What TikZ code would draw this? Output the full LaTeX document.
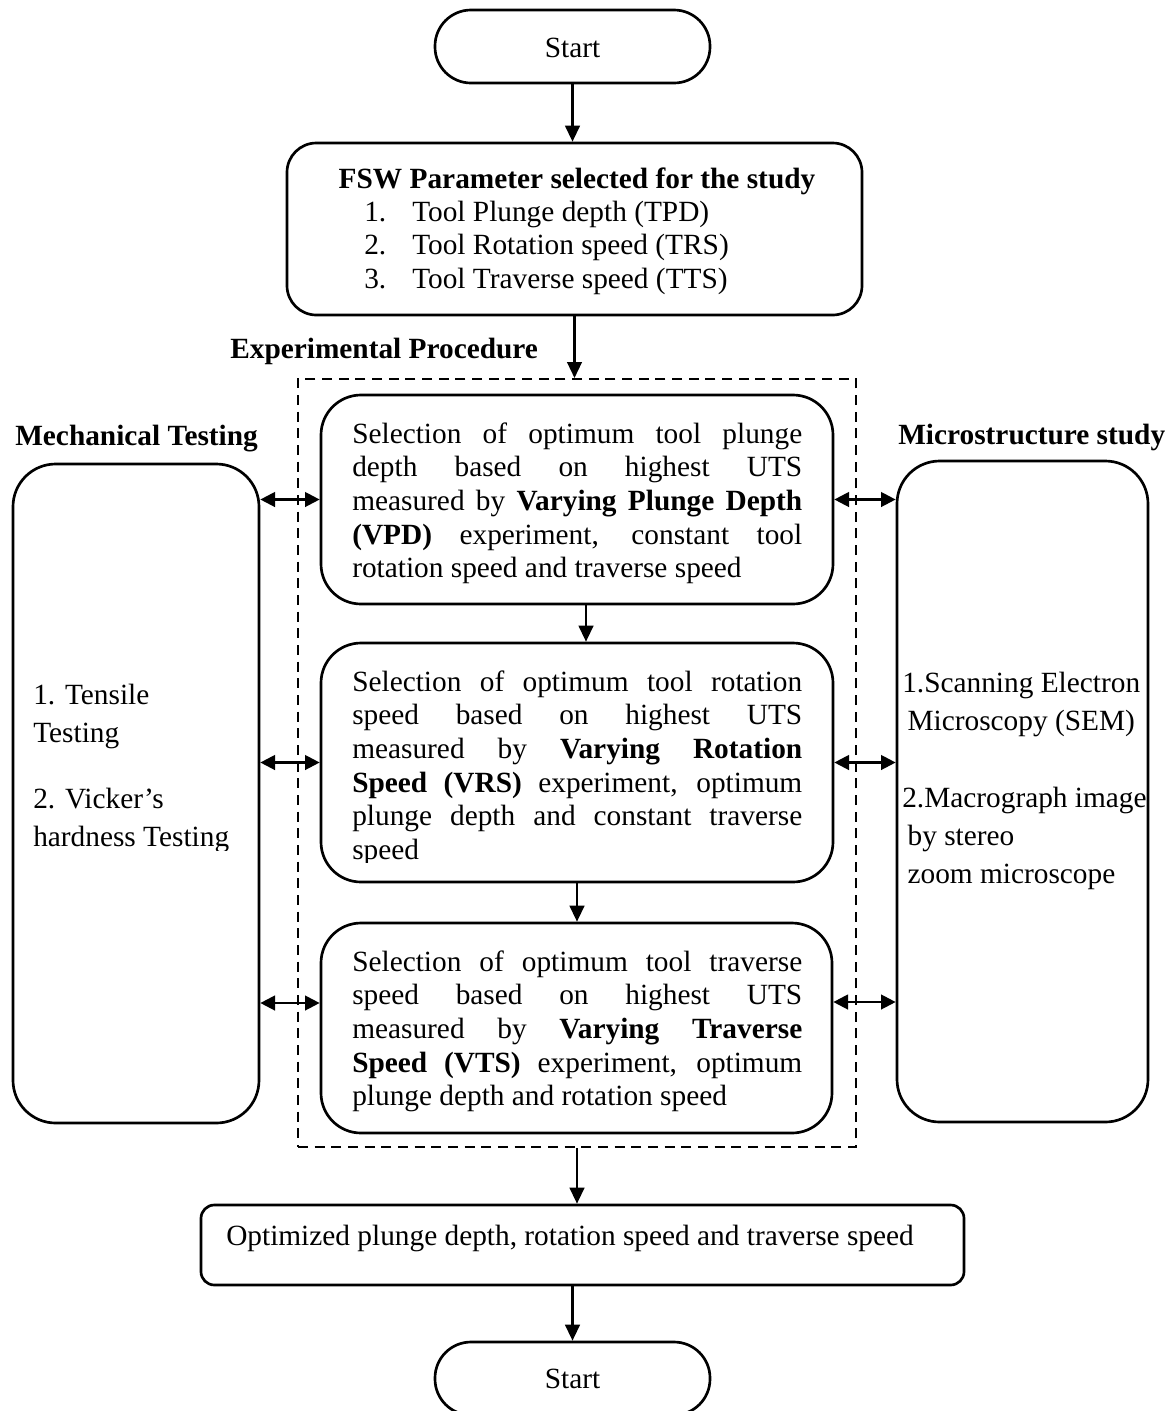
\documentclass[tikz,border=0pt]{standalone}
\usepackage{fontspec}
\setmainfont{Liberation Serif}
\usetikzlibrary{arrows.meta,fit}
\begin{document}
\begin{tikzpicture}[x=0.75pt,y=-0.75pt,
  every node/.style={font=\fontsize{22}{25.3}\selectfont},
  txt/.style={inner sep=0pt, anchor=base west},
  bold/.style={font=\fontsize{22}{25.3}\selectfont\bfseries},
  boxfit/.style={draw, line width=2pt, inner sep=0pt},
  term/.style={boxfit, rounded corners=27pt},
  procbox/.style={boxfit, rounded corners=30pt},
  sidebox/.style={boxfit, rounded corners=32pt},
  dashbox/.style={draw, line width=1.5pt, dash pattern=on 7.5pt off 5pt, inner sep=0pt},
  arr/.style={line width=1.7pt, -{Triangle[length=12pt,width=11pt]}},
  darr/.style={line width=1.7pt, {Triangle[length=11pt,width=11pt]}-{Triangle[length=11pt,width=11pt]}}
]
\useasboundingbox (0,0) rectangle (1176,1411);

% terminals
\node[term, fit={(435,10)(710,83)}] (s1) {};
\node[txt, anchor=base] (s1t) at (572.5,57) {Start};
\node[term, fit={(435,1342)(710,1415)}] (s2) {};
\node[txt, anchor=base] (s2t) at (572.5,1388) {Start};

% parameter box
\node[boxfit, rounded corners=22pt, fit={(287,143)(862,315)}] (fsw) {};
\node[txt, bold, anchor=base] (fswt) at (577,188) {FSW Parameter selected for the study};
\node[txt] (fswl) at (364,221) {\parbox[t]{380pt}{\raggedright
  \makebox[36pt][l]{1.}Tool Plunge depth (TPD)\\
  \makebox[36pt][l]{2.}Tool Rotation speed (TRS)\\
  \makebox[36pt][l]{3.}Tool Traverse speed (TTS)}};

% labels
\node[txt, bold] (explab) at (230,358) {Experimental Procedure};
\node[txt, bold] (mechlab) at (15,445) {Mechanical Testing};
\node[txt, bold] (microlab) at (898,444) {Microstructure study};

% dashed group
\node[dashbox, fit={(298,379)(856,1147)}] (exp) {};

% process boxes
\node[procbox, fit={(321,395)(833,604)}] (b1) {};
\node[procbox, fit={(321,643)(833,882)}] (b2) {};
\node[procbox, fit={(321,923)(832,1133)}] (b3) {};

\node[txt] (t1) at (352,443) {\parbox[t]{337.5pt}{\hyphenpenalty=10000
  Selection of optimum tool plunge\linebreak
  depth based on highest UTS\linebreak
  measured by \textbf{Varying Plunge Depth}\linebreak
  \textbf{(VPD)} experiment, constant tool\linebreak
  rotation speed and traverse speed}};

\begin{scope}
\clip (321,643) rectangle (833,862);
\node[txt] (t2) at (352,691) {\parbox[t]{337.5pt}{\hyphenpenalty=10000
  Selection of optimum tool rotation\linebreak
  speed based on highest UTS\linebreak
  measured by \textbf{Varying Rotation}\linebreak
  \textbf{Speed (VRS)} experiment, optimum\linebreak
  plunge depth and constant traverse\linebreak
  speed}};
\end{scope}

\node[txt] (t3) at (352,971) {\parbox[t]{337.5pt}{\hyphenpenalty=10000
  Selection of optimum tool traverse\linebreak
  speed based on highest UTS\linebreak
  measured by \textbf{Varying Traverse}\linebreak
  \textbf{Speed (VTS)} experiment, optimum\linebreak
  plunge depth and rotation speed}};

% side boxes
\node[sidebox, fit={(13,464)(259,1123)}] (mech) {};
\node[sidebox, fit={(897,461)(1148,1122)}] (micro) {};

\begin{scope}
\clip (13,464) rectangle (259,850);
\node[txt] (mecht) at (33,704) {\parbox[t]{200pt}{\fontsize{22}{28.5}\selectfont\raggedright
  1. Tensile\\
  Testing\\[21pt]
  2. Vicker's\\
  hardness Testing}};
\end{scope}

\node[txt] (microt) at (902,692) {\parbox[t]{250pt}{\fontsize{22}{28.5}\selectfont\raggedright
  1.Scanning Electron\\
  \hspace*{4pt}Microscopy (SEM)\\[29.25pt]
  2.Macrograph image\\
  \hspace*{4pt}by stereo\\
  \hspace*{4pt}zoom microscope}};

% result box
\node[boxfit, rounded corners=10pt, fit={(201,1205)(964,1285)}] (opt) {};
\node[txt] (optt) at (226,1245) {Optimized plunge depth, rotation speed and traverse speed};

% main flow
\draw[arr] (s1) -- (s1 |- fsw.north);
\draw[arr] (fsw) -- (fsw |- exp.north);
\draw[arr] ([xshift=6.75pt]b1.south) -- ([xshift=6.75pt]b1.south |- b2.north);
\draw[arr] (b2) -- (b2 |- b3.north);
\draw[arr] (exp) -- (exp |- opt.north);
\draw[arr] (opt.south -| s2.north) -- (s2);

% side links
\coordinate (b3l) at ([yshift=18.75pt]b3.west);
\coordinate (b3r) at ([yshift=19.5pt]b3.east);
\draw[darr] (mech.east |- b1.west) -- (b1.west);
\draw[darr] (mech.east |- b2.west) -- (b2.west);
\draw[darr] (mech.east |- b3l) -- (b3l);
\draw[darr] (b1.east) -- (micro.west |- b1.east);
\draw[darr] (b2.east) -- (micro.west |- b2.east);
\draw[darr] (b3r) -- (micro.west |- b3r);
\end{tikzpicture}
\end{document}
